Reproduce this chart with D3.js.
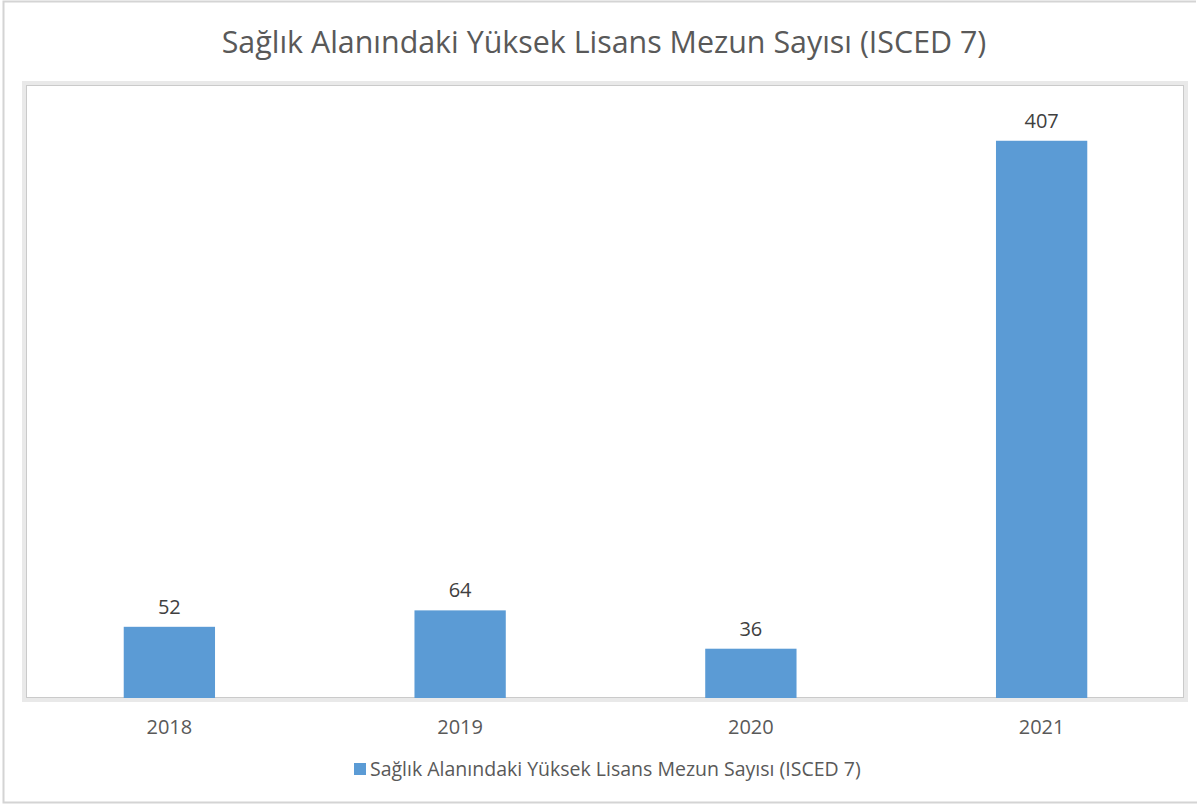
<!DOCTYPE html>
<html>
<head>
<meta charset="utf-8">
<script src="https://cdn.jsdelivr.net/npm/d3@7"></script>
<style>
  body { margin: 0; background: #fff; }
  text { font-family: "Open Sans", "Noto Sans", sans-serif; }
</style>
</head>
<body>
<div id="chart"></div>
<script>
// Chart data
const years = ["2018", "2019", "2020", "2021"];
const graduates = [52, 64, 36, 407];
const seriesName = "Sağlık Alanındaki Yüksek Lisans Mezun Sayısı (ISCED 7)";
const chartTitle = "Sağlık Alanındaki Yüksek Lisans Mezun Sayısı (ISCED 7)";

const width = 1197;
const height = 804;
const plot = { left: 26, top: 85, right: 1184, bottom: 698 };

const svg = d3.select("#chart").append("svg")
    .attr("width", width)
    .attr("height", height);

// Outer chart border
svg.append("path")
    .attr("d", `M1196,1.5 H3.5 V802.5 H1197`)
    .attr("fill", "none")
    .attr("stroke", "#d4d4d4")
    .attr("stroke-width", 2);

// Plot area frame: light band plus thin inner line
svg.append("rect")
    .attr("x", plot.left - 2)
    .attr("y", plot.top - 2)
    .attr("width", plot.right - plot.left + 4)
    .attr("height", plot.bottom - plot.top + 4)
    .attr("fill", "none")
    .attr("stroke", "#e9e9e9")
    .attr("stroke-width", 4);
svg.append("rect")
    .attr("x", plot.left + 0.5)
    .attr("y", plot.top + 0.5)
    .attr("width", plot.right - plot.left - 1)
    .attr("height", plot.bottom - plot.top - 1)
    .attr("fill", "#fff")
    .attr("stroke", "#cacaca")
    .attr("stroke-width", 1);

// Title
svg.append("text")
    .attr("x", 604)
    .attr("y", 53)
    .attr("text-anchor", "middle")
    .attr("font-size", 30.4)
    .attr("fill", "#595959")
    .text(chartTitle);

// Scales
const x = d3.scaleBand()
    .domain(years)
    .range([24, 1187])
    .paddingInner(0.686)
    .paddingOuter(0.343);

const y = d3.scaleLinear()
    .domain([0, 447])
    .range([plot.bottom, plot.top + 1]);

// Bars
svg.selectAll(".bar")
    .data(years)
    .join("rect")
    .attr("class", "bar")
    .attr("x", d => x(d))
    .attr("y", (d, i) => y(graduates[i]))
    .attr("width", x.bandwidth())
    .attr("height", (d, i) => y(0) - y(graduates[i]))
    .attr("fill", "#5b9bd5");

// Value labels
svg.selectAll(".value")
    .data(years)
    .join("text")
    .attr("class", "value")
    .attr("x", d => x(d) + x.bandwidth() / 2)
    .attr("y", (d, i) => y(graduates[i]) - 13)
    .attr("text-anchor", "middle")
    .attr("font-size", 20)
    .attr("fill", "#404040")
    .text((d, i) => graduates[i]);

// X axis labels
const xAxis = svg.append("g")
    .attr("transform", `translate(0,${plot.bottom})`)
    .call(d3.axisBottom(x).tickSize(0).tickPadding(22));
xAxis.select(".domain").remove();
xAxis.selectAll("text")
    .attr("font-family", "'Open Sans', 'Noto Sans', sans-serif")
    .attr("font-size", 20)
    .attr("fill", "#595959");

// Legend
const legend = svg.append("g").attr("transform", "translate(354,763)");
legend.append("rect")
    .attr("width", 12)
    .attr("height", 12)
    .attr("fill", "#5b9bd5");
legend.append("text")
    .attr("x", 16)
    .attr("y", 13)
    .attr("font-size", 19.5)
    .attr("fill", "#595959")
    .text(seriesName);
</script>
</body>
</html>
